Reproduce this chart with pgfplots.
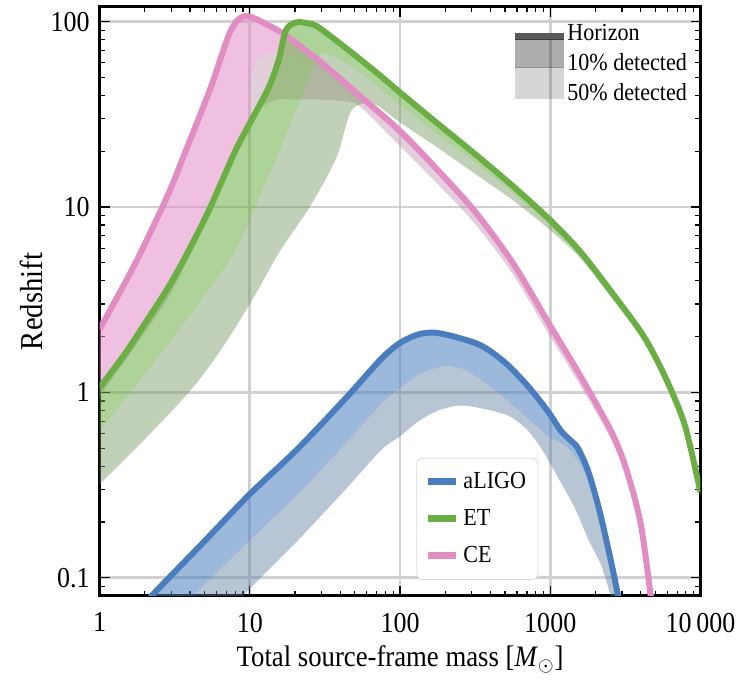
\documentclass[border=0pt]{standalone}
\usepackage{pgfplots}
\pgfplotsset{compat=1.18}
\usepackage{pgfplotstable}
\usepgfplotslibrary{fillbetween}
\usepackage{fontspec}
\setmainfont{Liberation Serif}[FakeStretch=0.9]

\definecolor{alcol}{RGB}{74,125,190}
\definecolor{etcol}{RGB}{106,174,68}
\definecolor{cecol}{RGB}{226,140,196}

% aLIGO: horizon, 10% detected, 50% detected
\pgfplotstableread{
x y
2.0 0.072
2.25 0.081
5 0.158
10 0.283
21 0.50
45 0.96
75 1.52
100 1.85
133 2.06
170 2.10
230 2.00
347 1.79
500 1.45
712 1.08
966 0.79
1180 0.62
1370 0.55
1530 0.50
1780 0.38
2100 0.24
2500 0.13
2820 0.081
3000 0.06
}\alH
\pgfplotstableread{
x y
3.8 0.07
4.2 0.08
10 0.16
21 0.285
45 0.55
75 0.87
100 1.06
133 1.25
190 1.38
260 1.34
347 1.17
500 0.93
745 0.70
1000 0.57
1250 0.52
1450 0.46
1780 0.34
2100 0.21
2500 0.115
2750 0.075
2900 0.06
}\alT
\pgfplotstableread{
x y
8.2 0.07
9 0.08
21 0.16
45 0.31
75 0.49
100 0.58
133 0.70
180 0.80
250 0.85
350 0.82
525 0.75
700 0.63
870 0.50
1100 0.36
1450 0.24
1800 0.16
2180 0.117
2520 0.08
2700 0.06
}\alF

% ET
\pgfplotstableread{
x y
1 1.06
1.5 1.65
2 2.35
2.9 3.75
3.95 5.9
5.4 9.8
8.1 20.5
11.5 34.9
13.5 45
15.6 62.5
17.4 90
20.3 99
24 98
28.8 93
50 66
72 52
100 41.5
178 28.2
316 19.3
562 13.0
1000 8.5
1585 5.75
2512 3.55
3981 2.14
5012 1.55
6310 1.05
7943 0.65
10000 0.29
}\etH
\pgfplotstableread{
x y
1 0.62
2.39 1.52
4.8 3.2
8.1 5.95
12 12.2
15.6 19.8
20.3 33.6
24.7 48.8
27.5 62.5
31 68
38 64
50 56
72 44.5
100 35.7
178 24.8
316 17.4
562 12.0
1000 7.9
1585 5.46
2512 3.4
3981 2.08
5012 1.5
6310 1.02
7943 0.63
10000 0.28
}\etT
\pgfplotstableread{
x y
1 0.32
2 0.56
4 1.02
6.3 1.66
10 3.0
15.8 5.75
25 10
37.3 18.1
45.5 30.8
50.7 34.9
61.8 36.7
72 35
100 28.6
178 20.9
316 15.1
562 10.9
1000 7.5
1585 5.3
2512 3.3
3981 2.05
5012 1.49
6310 1.01
7943 0.625
10000 0.28
}\etF

% CE
\pgfplotstableread{
x y
1 2.2
1.5 4.0
1.93 5.95
2.9 12
3.78 20.5
4.6 30.5
5.6 46
6.5 66
7.3 86
8.2 101
9.2 107
10.5 105
12.5 98
16.4 87
22 73
30 60
50 42
100 25.7
178 15.85
316 9.44
562 5.01
1000 2.29
1585 1.23
2512 0.63
3162 0.40
3981 0.20
4677 0.079
5000 0.05
}\ceH
\pgfplotstableread{
x y
1 1.0
2 2.2
2.9 3.4
3.95 5.6
5.4 9.6
8.1 21
9.7 28
10.0 40
10.4 55
11.5 64
13.5 68
17 67
22 63
30 56
50 39.5
100 24.2
178 15.0
316 8.95
562 4.75
1000 2.17
1585 1.16
2512 0.595
3162 0.375
3981 0.185
4600 0.075
5000 0.04
}\ceT
\pgfplotstableread{
x y
1 0.95
2 2.1
2.9 3.3
3.95 5.4
5.4 9.2
8.1 20
11.5 33
15 38
20 38
30 38
45 37
55 34.5
100 21.3
178 13.3
316 8.1
562 4.35
1000 2.0
1585 1.09
2512 0.57
3162 0.36
3981 0.18
4550 0.075
5000 0.035
}\ceF

\begin{document}
\begin{tikzpicture}
\begin{axis}[
    scale only axis,
    width=301.5pt, height=295.5pt,
    xmode=log, ymode=log,
    xmin=1, xmax=10000, ymin=0.08, ymax=120,
    xtick={1,10,100,1000,10000},
    xticklabels={1,10,100,1000,10\,000},
    ytick={0.1,1,10,100},
    yticklabels={0.1,1,10,100},
    minor xtick={2,3,4,5,6,7,8,9,20,30,40,50,60,70,80,90,200,300,400,500,600,700,800,900,2000,3000,4000,5000,6000,7000,8000,9000},
    minor ytick={0.09,0.2,0.3,0.4,0.5,0.6,0.7,0.8,0.9,2,3,4,5,6,7,8,9,20,30,40,50,60,70,80,90},
    tick align=inside,
    major tick length=5pt, minor tick length=2.5pt,
    tick style={black, line width=0.6pt},
    axis line style={line width=1.5pt},
    grid=major,
    major grid style={line width=1.4pt, black!18},
    tick label style={font=\fontsize{14.5}{16}\selectfont},
    xticklabel style={yshift=-5pt},
    yticklabel style={xshift=-1.5pt},
    xlabel={Total source-frame mass [\textit{M}$_\odot$]},
    ylabel={Redshift},
    xlabel style={font=\fontsize{14.9}{17}\selectfont,
        at={(axis description cs:0.5,-0.108)}, anchor=center},
    ylabel style={font=\fontsize{16}{18}\selectfont,
        at={(axis description cs:-0.113,0.5)}, anchor=center},
    legend style={at={(0.527,0.027)}, anchor=south west, draw=black!15,
        rounded corners=3pt, fill=white, font=\fontsize{12.3}{14}\selectfont,
        row sep=5pt, inner xsep=4pt, inner ysep=5pt},
    legend cell align=left,
    legend image code/.code={\draw[#1, line width=3.5pt] (0pt,0pt) -- (14pt,0pt);},
]
% aLIGO
\addplot[name path=alH, draw=none, smooth, forget plot] table {\alH};
\addplot[name path=alT, draw=none, smooth, forget plot] table {\alT};
\addplot[name path=alF, draw=none, smooth, forget plot] table {\alF};
\addplot[fill=alcol, fill opacity=0.55, draw=none, forget plot] fill between[of=alH and alT];
\addplot[fill=alcol!55!gray, fill opacity=0.45, draw=none, forget plot] fill between[of=alT and alF];
\addplot[alcol, line width=3pt, smooth, forget plot] table {\alH};
% CE
\addplot[name path=ceH, draw=none, smooth, forget plot] table {\ceH};
\addplot[name path=ceT, draw=none, smooth, forget plot] table {\ceT};
\addplot[name path=ceF, draw=none, smooth, forget plot] table {\ceF};
\addplot[fill=cecol, fill opacity=0.55, draw=none, forget plot] fill between[of=ceH and ceT];
\addplot[fill=cecol!55!gray, fill opacity=0.4, draw=none, forget plot] fill between[of=ceT and ceF];
\addplot[cecol, line width=3pt, smooth, forget plot] table {\ceH};
% ET
\addplot[name path=etH, draw=none, smooth, forget plot] table {\etH};
\addplot[name path=etT, draw=none, smooth, forget plot] table {\etT};
\addplot[name path=etF, draw=none, smooth, forget plot] table {\etF};
\addplot[fill=etcol, fill opacity=0.55, draw=none, forget plot] fill between[of=etH and etT];
\addplot[fill=etcol!55!gray, fill opacity=0.45, draw=none, forget plot] fill between[of=etT and etF];
\addplot[etcol, line width=3pt, smooth, forget plot] table {\etH};

\addlegendimage{alcol}
\addlegendentry{aLIGO}
\addlegendimage{etcol}
\addlegendentry{ET}
\addlegendimage{cecol}
\addlegendentry{CE}
\end{axis}

\begin{axis}[
    scale only axis,
    width=301.5pt, height=295.5pt,
    hide axis,
    xmode=log, ymode=log,
    xmin=1, xmax=10000, ymin=0.08, ymax=120,
    legend style={at={(0.69,0.976)}, anchor=north west, draw=none, fill=none,
        font=\fontsize{12.3}{14}\selectfont, row sep=2pt, inner sep=0pt,
        nodes={inner sep=1.5pt}},
    legend cell align=left,
]
\addlegendimage{legend image code/.code={\path[draw=none] (0pt,-4pt) rectangle (25pt,4pt);
    \fill[overlay, draw=none, black!65] (0pt,-3.2pt) rectangle (25pt,0.5pt);}}
\addlegendentry{Horizon}
\addlegendimage{legend image code/.code={\path[draw=none] (0pt,-4pt) rectangle (25pt,4pt);
    \fill[overlay, draw=none, black, fill opacity=0.32] (0pt,-2pt) rectangle (25pt,12.4pt);}}
\addlegendentry{10\% detected}
\addlegendimage{legend image code/.code={\path[draw=none] (0pt,-4pt) rectangle (25pt,4pt);
    \fill[overlay, draw=none, black, fill opacity=0.16] (0pt,-2.5pt) rectangle (25pt,13.4pt);}}
\addlegendentry{50\% detected}
\end{axis}
\path (-50pt,-42pt) rectangle (321pt,299pt);
\end{tikzpicture}
\end{document}
